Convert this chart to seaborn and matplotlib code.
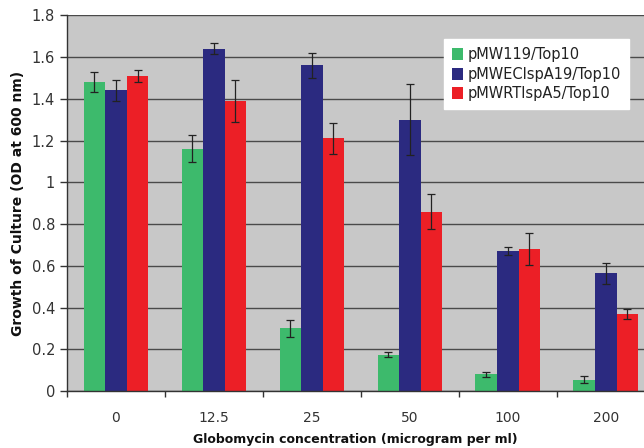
import numpy as np
import pandas as pd
import seaborn as sns
import matplotlib.pyplot as plt

concentrations = ['0', '12.5', '25', '50', '100', '200']
strains = ['pMW119/Top10', 'pMWEClspA19/Top10', 'pMWRTlspA5/Top10']

pmw119 = [1.48, 1.16, 0.30, 0.175, 0.08, 0.055]
pmw119_err = [0.05, 0.065, 0.04, 0.012, 0.012, 0.015]
pmwec = [1.44, 1.64, 1.56, 1.30, 0.67, 0.565]
pmwec_err = [0.05, 0.025, 0.06, 0.17, 0.02, 0.05]
pmwrt = [1.51, 1.39, 1.21, 0.86, 0.68, 0.37]
pmwrt_err = [0.03, 0.10, 0.075, 0.085, 0.075, 0.025]

colors = ['#3dba6c', '#2b2a80', '#ec1f26']

df = pd.DataFrame({
    'conc': concentrations * 3,
    'strain': np.repeat(strains, len(concentrations)),
    'od': pmw119 + pmwec + pmwrt,
})
errs = [pmw119_err, pmwec_err, pmwrt_err]

sns.set_style('white')
plt.rcParams['font.family'] = ['DejaVu Sans']

fig = plt.figure(figsize=(6.44, 4.48), dpi=100)
ax = fig.add_axes([0.104, 0.127, 0.896, 0.839])
ax.set_facecolor('#c8c8c8')

sns.barplot(data=df, x='conc', y='od', hue='strain', hue_order=strains,
            order=concentrations, palette=colors, width=0.66, saturation=1,
            errorbar=None, ax=ax, edgecolor='none')

for cont, err in zip(ax.containers, errs):
    xs = [p.get_x() + p.get_width() / 2 for p in cont]
    hs = [p.get_height() for p in cont]
    ax.errorbar(xs, hs, yerr=err, fmt='none', ecolor='#222222',
                elinewidth=0.9, capsize=3, capthick=0.9, zorder=5)

ax.set_ylim(0, 1.8)
ax.set_yticks(np.arange(0, 1.81, 0.2))
ax.set_yticklabels(['0', '0.2', '0.4', '0.6', '0.8', '1', '1.2', '1.4', '1.6', '1.8'])
ax.set_xlim(-0.5, 5.39)
ax.set_xticks(np.arange(-0.5, 5.5, 1), minor=True)
ax.tick_params(axis='x', which='major', length=0, pad=14, labelsize=10, colors='#333333')
ax.tick_params(axis='x', which='minor', length=4, width=1, direction='out',
               bottom=True, color='#333333')
ax.tick_params(axis='y', length=5, width=1, direction='out', left=True,
               labelsize=10.5, colors='#333333')

ax.yaxis.grid(True, color='#4a4a4a', linewidth=1)
ax.set_axisbelow(True)
for s in ['top', 'right']:
    ax.spines[s].set_visible(False)
for s in ['left', 'bottom']:
    ax.spines[s].set_color('#333333')
    ax.spines[s].set_linewidth(1)

ax.set_xlabel('Globomycin concentration (microgram per ml)', fontsize=9,
              fontweight='bold', color='#111111', labelpad=6)
ax.set_ylabel('Growth of Culture (OD at 600 nm)', fontsize=10,
              fontweight='bold', color='#111111', labelpad=5)

leg = ax.legend(loc='upper left', bbox_to_anchor=(0.64, 0.955), frameon=True,
                fancybox=False, framealpha=1, edgecolor='white', fontsize=10.5,
                handlelength=0.8, handleheight=0.9, handletextpad=0.3,
                labelspacing=0.3, borderpad=0.55)
for t in leg.get_texts():
    t.set_color('#222222')

fig.savefig('out.png', dpi=100)
